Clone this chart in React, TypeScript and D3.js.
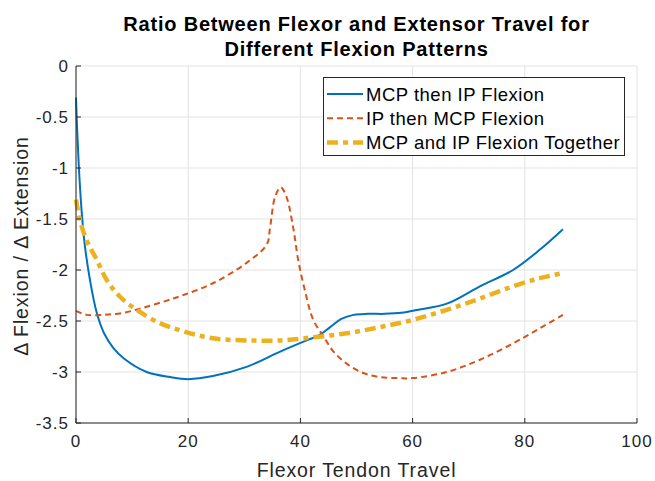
import React from "react";
import * as d3 from "d3";

// MCP then IP flexion
const mcpFirstX = [0, 0.2, 0.5, 1.0, 1.6, 2.5, 3.7, 5.0, 6.6, 8.6, 12.6, 16.8, 20, 24.4, 30.4, 36.4, 41.1, 43.3, 45.3, 47.3, 49.5, 52, 55, 58, 61, 66.1, 72, 77.9, 82.7, 86.8];
const mcpFirstY = [-0.31, -0.62, -0.98, -1.42, -1.77, -2.1, -2.42, -2.62, -2.76, -2.87, -3.0, -3.05, -3.07, -3.04, -2.95, -2.8, -2.69, -2.64, -2.56, -2.48, -2.44, -2.43, -2.43, -2.42, -2.39, -2.33, -2.16, -2.0, -1.8, -1.6];

// IP then MCP flexion
const ipFirstX = [0, 1.9, 4.9, 8.4, 12, 16.2, 19.4, 24.4, 30.4, 34, 34.6, 35.5, 36.5, 37.5, 38.7, 39.6, 40.8, 42.3, 44.1, 45.9, 48.3, 51.2, 54.2, 57.5, 60, 66.1, 72, 77.9, 82.7, 86.8];
const ipFirstY = [-2.4, -2.44, -2.44, -2.42, -2.37, -2.3, -2.24, -2.13, -1.93, -1.75, -1.58, -1.28, -1.19, -1.28, -1.58, -1.9, -2.2, -2.49, -2.65, -2.8, -2.92, -3.01, -3.05, -3.06, -3.06, -3.0, -2.88, -2.72, -2.57, -2.44];

// MCP and IP together
const togetherX = [0, 0.7, 1.9, 3.7, 5.5, 7.8, 10.8, 14.9, 19.1, 24.4, 30.4, 36.4, 42.3, 48.3, 54.2, 60, 66.1, 72, 77.9, 82.7, 86.8];
const togetherY = [-1.31, -1.51, -1.71, -1.9, -2.1, -2.26, -2.39, -2.52, -2.6, -2.67, -2.69, -2.69, -2.66, -2.62, -2.56, -2.49, -2.39, -2.28, -2.16, -2.08, -2.03];

const xTicks = [0, 20, 40, 60, 80, 100];
const yTicks = [0, -0.5, -1, -1.5, -2, -2.5, -3, -3.5];

const series = [
  { name: "MCP then IP Flexion", xs: mcpFirstX, ys: mcpFirstY, color: "#0072BD", width: 2, dash: "" },
  { name: "IP then MCP Flexion", xs: ipFirstX, ys: ipFirstY, color: "#D95319", width: 2, dash: "6 4" },
  { name: "MCP and IP Flexion Together", xs: togetherX, ys: togetherY, color: "#EDB120", width: 4.5, dash: "11 5 5 5" },
];

const font = "'Liberation Sans', Arial, Helvetica, sans-serif";
const ink = "#262626";

export default function App() {
  const left = 76;
  const right = 637;
  const top = 66;
  const bottom = 423;

  const x = d3.scaleLinear().domain([0, 100]).range([left, right]);
  const y = d3.scaleLinear().domain([-3.5, 0]).range([bottom, top]);

  const line = d3
    .line<[number, number]>()
    .x((d) => x(d[0]))
    .y((d) => y(d[1]))
    .curve(d3.curveCatmullRom.alpha(0.5));

  return (
    <svg width={655} height={481} style={{ position: "absolute", left: 0, top: 0 }} fontFamily={font}>
      <rect width={655} height={481} fill="#fff" />

      {/* grid */}
      {xTicks.map((t) => (
        <line key={"gx" + t} x1={x(t)} x2={x(t)} y1={top} y2={bottom} stroke="#e3e3e3" />
      ))}
      {yTicks.map((t) => (
        <line key={"gy" + t} x1={left} x2={right} y1={y(t)} y2={y(t)} stroke="#e3e3e3" />
      ))}

      {/* series */}
      {series.map((s) => (
        <path
          key={s.name}
          d={line(s.xs.map((v, i) => [v, s.ys[i]] as [number, number])) || ""}
          fill="none"
          stroke={s.color}
          strokeWidth={s.width}
          strokeDasharray={s.dash || undefined}
        />
      ))}

      {/* axes */}
      <line x1={left} x2={right} y1={bottom} y2={bottom} stroke={ink} />
      <line x1={left} x2={left} y1={top} y2={bottom} stroke={ink} />
      {xTicks.map((t) => (
        <g key={"tx" + t}>
          <line x1={x(t)} x2={x(t)} y1={bottom} y2={bottom - 5} stroke={ink} />
          <text x={x(t)} y={447} textAnchor="middle" fontSize={17} letterSpacing={1} fill={ink}>
            {t}
          </text>
        </g>
      ))}
      {yTicks.map((t) => (
        <g key={"ty" + t}>
          <line x1={left} x2={left + 5} y1={y(t)} y2={y(t)} stroke={ink} />
          <text x={69} y={y(t)} dy="0.36em" textAnchor="end" fontSize={17} letterSpacing={1} fill={ink}>
            {t}
          </text>
        </g>
      ))}

      {/* labels */}
      <text x={(left + right) / 2} y={476.5} textAnchor="middle" fontSize={19.5} letterSpacing={0.9} fill={ink}>
        Flexor Tendon Travel
      </text>
      <text
        transform={`translate(28,246) rotate(-90)`}
        textAnchor="middle"
        fontSize={19.5}
        letterSpacing={0.9}
        fill={ink}
      >
        Δ{"\u2009"}Flexion / Δ{"\u2009"}Extension
      </text>
      <text x={(left + right) / 2} y={31} textAnchor="middle" fontSize={20} letterSpacing={0.8} fontWeight="bold" fill="#000">
        Ratio Between Flexor and Extensor Travel for
      </text>
      <text x={(left + right) / 2} y={56} textAnchor="middle" fontSize={20} letterSpacing={0.8} fontWeight="bold" fill="#000">
        Different Flexion Patterns
      </text>

      {/* legend */}
      <g>
        <rect x={323.5} y={77.5} width={301} height={78} fill="#fff" stroke={ink} />
        {series.map((s, i) => (
          <g key={"lg" + s.name} transform={`translate(0,${94 + i * 24.3})`}>
            <line
              x1={327}
              x2={363}
              y1={0}
              y2={0}
              stroke={s.color}
              strokeWidth={s.width}
              strokeDasharray={s.dash || undefined}
            />
            <text x={366} y={0} dy="0.36em" fontSize={18.5} letterSpacing={0.5} fill="#000">
              {s.name}
            </text>
          </g>
        ))}
      </g>
    </svg>
  );
}
